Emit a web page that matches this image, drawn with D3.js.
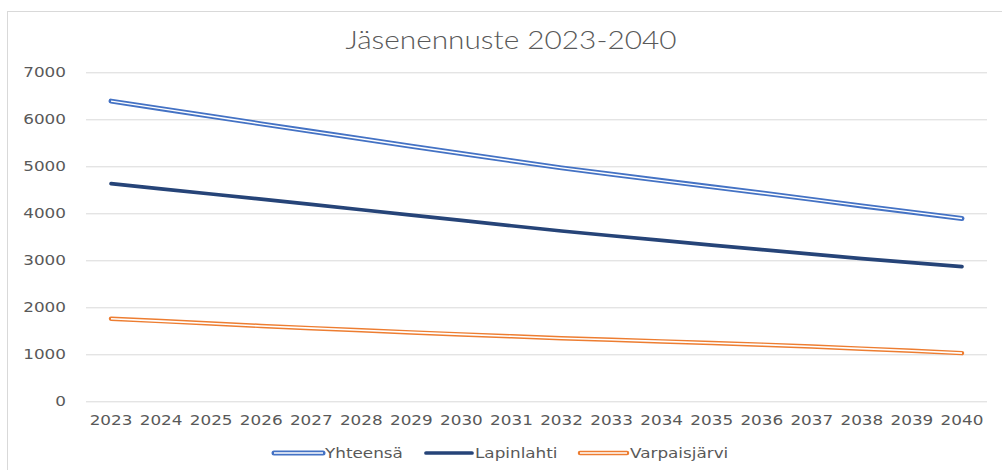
<!DOCTYPE html>
<html>
<head>
<meta charset="utf-8">
<script src="https://cdn.jsdelivr.net/npm/d3@7"></script>
<style>
  html, body { margin: 0; padding: 0; background: #fff; }
  svg { display: block; }
</style>
</head>
<body>
<svg id="chart" width="1002" height="470"></svg>
<script>
const title = "Jäsenennuste 2023-2040";
const years = ["2023","2024","2025","2026","2027","2028","2029","2030","2031","2032","2033","2034","2035","2036","2037","2038","2039","2040"];
const yTicks = [0, 1000, 2000, 3000, 4000, 5000, 6000, 7000];
const seriesNames = ["Yhteensä", "Lapinlahti", "Varpaisjärvi"];
const yhteensa = [6387, 6226, 6065, 5903, 5744, 5586, 5428, 5272, 5118, 4966, 4830, 4696, 4563, 4432, 4296, 4157, 4024, 3889];
const lapinlahti = [4630, 4520, 4410, 4300, 4188, 4075, 3962, 3849, 3735, 3623, 3522, 3422, 3324, 3227, 3131, 3037, 2950, 2864];
const varpaisjarvi = [1757, 1706, 1655, 1603, 1556, 1511, 1466, 1423, 1383, 1343, 1308, 1274, 1239, 1205, 1165, 1120, 1074, 1025];

const series = [
  { name: seriesNames[0], values: yhteensa, color: "#4472C4", double: true, width: 5, inner: 1.4 },
  { name: seriesNames[1], values: lapinlahti, color: "#264478", double: false, width: 3.7, inner: 0 },
  { name: seriesNames[2], values: varpaisjarvi, color: "#ED7D31", double: true, width: 4.5, inner: 1.6 }
];

const svg = d3.select("#chart");
const textColor = "#595959";
const fontFam = "'DejaVu Sans', Verdana, sans-serif";
const stretch = 1.2;

function stretchText(sel, factor) {
  sel.each(function() {
    const w = this.getComputedTextLength();
    d3.select(this).attr("textLength", w * factor).attr("lengthAdjust", "spacingAndGlyphs");
  });
}

// chart border
svg.append("rect").attr("x", 7.5).attr("y", 11.5).attr("width", 1100).attr("height", 600)
  .attr("fill", "#fff").attr("stroke", "#d9d9d9").attr("stroke-width", 1);

const plotLeft = 86, plotRight = 987, plotTop = 72.3, plotBottom = 401.3;
const x = d3.scaleBand().domain(years).range([plotLeft, plotRight]).padding(0);
const xc = d => x(d) + x.bandwidth() / 2;
const y = d3.scaleLinear().domain([0, 7000]).range([plotBottom, plotTop]);

// y axis with gridlines
const yAxis = svg.append("g").attr("transform", `translate(${plotLeft},0)`)
  .call(d3.axisLeft(y).tickValues(yTicks).tickSize(-(plotRight - plotLeft)).tickPadding(20).tickFormat(d3.format("d")));
yAxis.select(".domain").remove();
yAxis.selectAll(".tick line").attr("stroke", "#d9d9d9").attr("stroke-width", 1);
yAxis.selectAll(".tick text").attr("fill", textColor).style("font-family", fontFam).style("font-size", "14px")
  .call(stretchText, stretch);

// x axis
const xAxis = svg.append("g").attr("transform", `translate(0,${plotBottom})`)
  .call(d3.axisBottom(x).tickSize(0).tickPadding(14));
xAxis.select(".domain").remove();
xAxis.selectAll(".tick text").attr("fill", textColor).style("font-family", fontFam).style("font-size", "14px")
  .call(stretchText, stretch);

// lines
const line = d3.line().x((d, i) => xc(years[i])).y(d => y(d));
series.forEach(s => {
  svg.append("path").datum(s.values).attr("d", line)
    .attr("fill", "none").attr("stroke", s.color).attr("stroke-width", s.width)
    .attr("stroke-linecap", "round").attr("stroke-linejoin", "round");
  if (s.double) {
    svg.append("path").datum(s.values).attr("d", line)
      .attr("fill", "none").attr("stroke", "#fff").attr("stroke-width", s.inner)
      .attr("stroke-linecap", "butt").attr("stroke-linejoin", "round");
  }
});

// title
svg.append("text").attr("x", 511).attr("y", 49).attr("text-anchor", "middle")
  .attr("fill", textColor).style("font-family", "Lato, 'Open Sans', sans-serif").style("font-size", "25px")
  .style("font-weight", 300)
  .text(title)
  .attr("textLength", 331).attr("lengthAdjust", "spacingAndGlyphs");

// legend
const legendItems = [
  { s: series[0], x0: 274, x1: 323, tx: 325 },
  { s: series[1], x0: 426, x1: 472, tx: 475 },
  { s: series[2], x0: 580, x1: 627, tx: 630 }
];
const ly = 453;
legendItems.forEach(it => {
  const g = svg.append("g");
  g.append("line").attr("x1", it.x0).attr("x2", it.x1).attr("y1", ly).attr("y2", ly)
    .attr("stroke", it.s.color).attr("stroke-width", it.s.width).attr("stroke-linecap", "round");
  if (it.s.double) {
    g.append("line").attr("x1", it.x0).attr("x2", it.x1).attr("y1", ly).attr("y2", ly)
      .attr("stroke", "#fff").attr("stroke-width", it.s.inner).attr("stroke-linecap", "butt");
  }
  g.append("text").attr("x", it.tx).attr("y", ly).attr("dy", "0.35em")
    .attr("fill", textColor).style("font-family", fontFam).style("font-size", "14px")
    .text(it.s.name).call(stretchText, stretch);
});
</script>
</body>
</html>
